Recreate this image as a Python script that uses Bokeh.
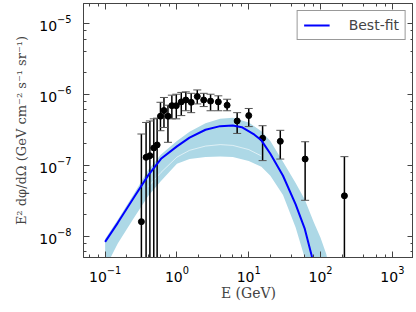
from bokeh.plotting import figure
from bokeh.models import LogAxis, LogTicker, Legend, LegendItem, ColumnDataSource
from bokeh.embed import file_html
from bokeh.resources import INLINE

# ---- data points (E in GeV, E^2 dphi/dOmega) ----
E_data = [0.32, 0.372, 0.42, 0.476, 0.53, 0.59, 0.66, 0.75, 0.85, 0.98, 1.15, 1.33,
          1.58, 1.92, 2.36, 2.94, 3.77, 5.0, 6.9, 10.0, 15.6, 27.5, 61.0, 215.0]
flux = [1.6e-8, 1.29e-7, 1.36e-7, 1.75e-7, 1.93e-7, 4.9e-7, 5.9e-7, 4.9e-7, 6.9e-7, 6.9e-7, 7.8e-7, 8.3e-7,
        7.7e-7, 9.3e-7, 8.3e-7, 8.0e-7, 7.8e-7, 7.0e-7, 4.2e-7, 5.0e-7, 2.4e-7, 2.17e-7, 1.22e-7, 3.7e-8]
flux_hi = [2.75e-7, 4.0e-7, 4.2e-7, 4.5e-7, 4.6e-7, 7.7e-7, 9.0e-7, 7.0e-7, 9.7e-7, 1.0e-6, 1.06e-6, 1.08e-6,
           1.03e-6, 1.15e-6, 1.03e-6, 1.0e-6, 9.5e-7, 8.5e-7, 5.5e-7, 6.3e-7, 3.6e-7, 3.1e-7, 2.14e-7, 1.32e-7]
flux_lo = [1e-10, 1e-10, 1e-10, 1e-10, 1e-10, 3.06e-7, 3.4e-7, 2.1e-7, 4.5e-7, 4.5e-7, 5.0e-7, 5.85e-7,
           5.5e-7, 7.3e-7, 6.7e-7, 5.85e-7, 5.85e-7, 5.85e-7, 2.8e-7, 3.5e-7, 1.16e-7, 1.22e-7, 3.2e-8, 1e-10]

# ---- best-fit curve ----
E_fit = [0.1, 0.15, 0.25, 0.4, 0.6, 1.0, 1.5, 2.5, 4.0, 6.0, 8.0, 12.0, 15.0, 20.0, 30.0, 45.0, 60.0, 75.0, 90.0]
fit = [8.3e-9, 1.54e-8, 3.47e-8, 7.25e-8, 1.23e-7, 1.84e-7, 2.45e-7, 3.16e-7, 3.55e-7, 3.63e-7, 3.43e-7,
       2.69e-7, 2.24e-7, 1.45e-7, 7.1e-8, 2.8e-8, 1.29e-8, 5.4e-9, 2.2e-9]

# ---- uncertainty band ----
E_band = [0.1, 0.15, 0.25, 0.4, 0.6, 1.0, 1.5, 2.5, 4.0, 6.0, 10.0, 15.0, 20.0, 30.0, 45.0, 60.0, 80.0,
          100.0, 120.0, 150.0]
band_hi = [9.1e-9, 1.7e-8, 3.9e-8, 8.6e-8, 1.42e-7, 2.2e-7, 2.95e-7, 3.9e-7, 4.5e-7, 4.65e-7, 4.0e-7,
           3.0e-7, 2.2e-7, 1.12e-7, 5.6e-8, 3.3e-8, 1.6e-8, 9.5e-9, 5.6e-9, 2.0e-9]
band_lo = [3.5e-9, 7.9e-9, 1.78e-8, 3.7e-8, 6.0e-8, 1.05e-7, 1.22e-7, 1.3e-7, 1.33e-7, 1.3e-7, 1.15e-7,
           9.5e-8, 7.1e-8, 3.8e-8, 1.32e-8, 5.0e-9, 1.6e-9, 1.0e-9, 1.0e-9, 1.0e-9]
E_gap = [0.4, 0.6, 1.0, 1.5, 2.5, 4.0, 6.0, 10.0, 15.0]
gap = [5.0e-8, 7.9e-8, 1.3e-7, 1.62e-7, 1.86e-7, 1.95e-7, 1.9e-7, 1.66e-7, 1.35e-7]

p = figure(width=413, height=303, x_axis_type="log", y_axis_type="log",
           x_range=(0.05, 1970), y_range=(5e-9, 1.9e-5),
           output_backend="svg", toolbar_location=None,
           min_border_left=83, min_border_right=0, min_border_top=3, min_border_bottom=2)

p.background_fill_color = "white"
p.border_fill_color = "white"
p.grid.visible = False
p.outline_line_color = "#444444"
p.outline_line_width = 1

p.varea(x=E_band, y1=band_lo, y2=band_hi, fill_color="#ADD8E6", fill_alpha=1.0)
p.line(E_gap, gap, line_color="white", line_width=1, line_alpha=0.6)

src = ColumnDataSource(dict(E=E_data, f=flux, hi=flux_hi, lo=flux_lo))
p.segment(x0="E", y0="lo", x1="E", y1="hi", source=src, line_color="black", line_width=1.5)
p.scatter(x="E", y="hi", source=src, marker="dash", size=8, line_color="#555555", line_width=1)
p.scatter(x="E", y="lo", source=src, marker="dash", size=8, line_color="#555555", line_width=1)
p.scatter(x="E", y="f", source=src, marker="circle", size=6, fill_color="black", line_color="black")

fit_r = p.line(E_fit, fit, line_color="blue", line_width=2)

legend = Legend(items=[LegendItem(label="Best-fit", renderers=[fit_r])], location="top_right")
legend.label_text_font = "DejaVu Sans"
legend.label_text_font_size = "14px"
legend.border_line_color = "#333333"
legend.border_line_width = 1
legend.glyph_width = 26
legend.glyph_height = 14
legend.label_height = 14
legend.label_standoff = 19
legend.padding = 6
legend.margin = 7
legend.spacing = 0
p.add_layout(legend)

def style_axis(ax, labels=True):
    ax.ticker = LogTicker(mantissas=[1], desired_num_ticks=6)
    ax.major_tick_in = 6
    ax.major_tick_out = 0
    ax.minor_tick_in = 3
    ax.minor_tick_out = 0
    ax.axis_line_color = "#444444"
    ax.major_tick_line_color = "#444444"
    ax.minor_tick_line_color = "#444444"
    if labels:
        ax.major_label_text_font = "DejaVu Sans"
        ax.major_label_text_font_size = "14px"
        ax.major_label_text_color = "black"
    else:
        ax.major_label_text_font_size = "1px"
        ax.major_label_text_alpha = 0
        ax.major_label_standoff = 0

xax = p.below[0]
yax = p.left[0]
style_axis(xax)
style_axis(yax)

top = LogAxis()
style_axis(top, labels=False)
p.add_layout(top, "above")
right = LogAxis()
style_axis(right, labels=False)
p.add_layout(right, "right")

xax.axis_label = "E (GeV)"
yax.axis_label = "E² dφ/dΩ (GeV cm⁻² s⁻¹ sr⁻¹)"
xax.axis_label_text_font = "DejaVu Serif"
yax.axis_label_text_font = "DejaVu Serif"
xax.axis_label_text_font_style = "normal"
yax.axis_label_text_font_style = "normal"
xax.axis_label_text_font_size = "14px"
yax.axis_label_text_font_size = "13px"
xax.axis_label_standoff = 0
yax.axis_label_standoff = 7
xax.major_label_standoff = 8
yax.major_label_standoff = 12

open("out.html", "w").write(file_html(p, INLINE))
